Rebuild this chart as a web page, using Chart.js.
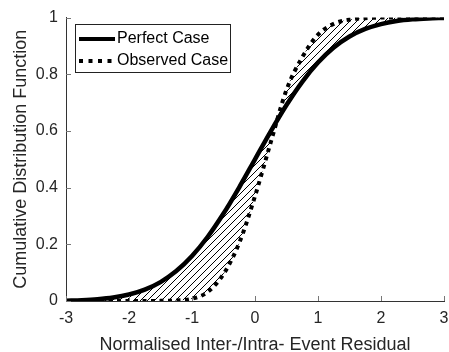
<!DOCTYPE html>
<html>
<head>
<meta charset="utf-8">
<script src="https://cdn.jsdelivr.net/npm/chart.js@4"></script>
<style>
  html, body { margin: 0; padding: 0; background: #fff; }
  #wrap { width: 449px; height: 352px; position: relative; }
</style>
</head>
<body>
<div id="wrap"><canvas id="cdfChart"></canvas></div>
<script>
// residual grid and CDF values for the two cases
var residuals = [-3, -2.75, -2.5, -2.25, -2, -1.75, -1.5, -1.25, -1, -0.75, -0.5, -0.25,
  0, 0.25, 0.5, 0.75, 1, 1.25, 1.5, 1.75, 2, 2.25, 2.5, 2.75, 3];
var perfectCdf = [0.0013, 0.003, 0.0062, 0.0122, 0.0228, 0.0401, 0.0668, 0.1056, 0.1587,
  0.2266, 0.3085, 0.4013, 0.5, 0.5987, 0.6915, 0.7734, 0.8413, 0.8944, 0.9332, 0.9599,
  0.9772, 0.9878, 0.9938, 0.997, 0.9987];
var observedCdf = [0, 0, 0, 0, 0, 0, 0.0005, 0.002, 0.008, 0.032, 0.095, 0.205,
  0.37, 0.56, 0.745, 0.86, 0.94, 0.978, 0.993, 0.998, 1, 1, 1, 1, 1];
var xTicks = [-3, -2, -1, 0, 1, 2, 3];
var yTicks = [0, 0.2, 0.4, 0.6, 0.8, 1];
var legendLabels = ['Perfect Case', 'Observed Case'];

var FONT = '"Liberation Sans", Arial, Helvetica, sans-serif';

function toPoints(ys) {
  return residuals.map(function(x, i) { return { x: x, y: ys[i] }; });
}

// diagonal hatch used between the two curves
function hatchPattern() {
  var size = 7;
  var c = document.createElement('canvas');
  c.width = size;
  c.height = size;
  var g = c.getContext('2d');
  g.strokeStyle = '#000';
  g.lineWidth = 1;
  g.beginPath();
  g.moveTo(0, size); g.lineTo(size, 0);
  g.moveTo(-1, 1); g.lineTo(1, -1);
  g.moveTo(size - 1, size + 1); g.lineTo(size + 1, size - 1);
  g.stroke();
  return g.createPattern(c, 'repeat');
}

var decorations = {
  id: 'decorations',
  afterDraw: function(chart) {
    var ctx = chart.ctx;
    var xs = chart.scales.x;
    var ys = chart.scales.y;
    var area = chart.chartArea;
    ctx.save();

    // inward tick marks
    ctx.strokeStyle = '#777';
    ctx.lineWidth = 1;
    ctx.beginPath();
    xTicks.forEach(function(v) {
      var px = Math.round(xs.getPixelForValue(v)) + 0.5;
      ctx.moveTo(px, area.bottom);
      ctx.lineTo(px, area.bottom - 5);
    });
    yTicks.forEach(function(v) {
      var py = Math.round(ys.getPixelForValue(v)) + 0.5;
      ctx.moveTo(area.left, py);
      ctx.lineTo(area.left + 5, py);
    });
    ctx.stroke();

    // axis titles
    ctx.fillStyle = '#262626';
    ctx.font = '18px ' + FONT;
    ctx.textAlign = 'center';
    ctx.textBaseline = 'alphabetic';
    ctx.fillText('Normalised Inter-/Intra- Event Residual', (area.left + area.right) / 2, 350);
    ctx.save();
    ctx.translate(26, (area.top + area.bottom) / 2);
    ctx.rotate(-Math.PI / 2);
    ctx.fillText('Cumulative Distribution Function', 0, 0);
    ctx.restore();

    // legend box
    var bx = 75.5, by = 24.5, bw = 155, bh = 48;
    ctx.fillStyle = '#fff';
    ctx.fillRect(bx, by, bw, bh);
    ctx.strokeStyle = '#222';
    ctx.lineWidth = 1;
    ctx.strokeRect(bx, by, bw, bh);

    ctx.strokeStyle = '#000';
    ctx.lineWidth = 4;
    ctx.lineCap = 'butt';
    ctx.beginPath();
    ctx.moveTo(79, 39);
    ctx.lineTo(115, 39);
    ctx.stroke();
    ctx.setLineDash([4, 5.5]);
    ctx.beginPath();
    ctx.moveTo(79, 61);
    ctx.lineTo(115, 61);
    ctx.stroke();
    ctx.setLineDash([]);

    ctx.fillStyle = '#000';
    ctx.font = '16px ' + FONT;
    ctx.textAlign = 'left';
    ctx.textBaseline = 'middle';
    ctx.fillText(legendLabels[0], 117, 39);
    ctx.fillText(legendLabels[1], 117, 61);
    ctx.restore();
  }
};

var ctx = document.getElementById('cdfChart').getContext('2d');
var chart = new Chart(ctx, {
  type: 'line',
  data: {
    datasets: [{
      label: legendLabels[0],
      data: toPoints(perfectCdf),
      borderColor: '#000',
      borderWidth: 4.5,
      pointRadius: 0,
      cubicInterpolationMode: 'monotone',
      fill: { target: 1 },
      backgroundColor: hatchPattern(),
      order: 2
    }, {
      label: legendLabels[1],
      data: toPoints(observedCdf),
      borderColor: '#000',
      borderWidth: 4,
      borderDash: [4, 4.5],
      borderCapStyle: 'butt',
      pointRadius: 0,
      cubicInterpolationMode: 'monotone',
      fill: false,
      order: 1
    }]
  },
  options: {
    responsive: true,
    maintainAspectRatio: false,
    animation: false,
    layout: { padding: { top: 17, right: 0, left: 0, bottom: 0 } },
    plugins: {
      legend: { display: false },
      tooltip: { enabled: false }
    },
    scales: {
      x: {
        type: 'linear',
        min: -3,
        max: 3,
        afterFit: function(scale) {
          scale.height = 51;
          scale.paddingRight = 5;
        },
        afterBuildTicks: function(scale) {
          scale.ticks = xTicks.map(function(v) { return { value: v }; });
        },
        grid: { display: false, drawTicks: false },
        border: { display: true, color: '#333', width: 1 },
        ticks: {
          padding: 8,
          color: '#262626',
          font: { family: FONT, size: 16 },
          maxRotation: 0
        }
      },
      y: {
        type: 'linear',
        min: 0,
        max: 1,
        afterFit: function(scale) { scale.width = 66; },
        afterBuildTicks: function(scale) {
          scale.ticks = yTicks.map(function(v) { return { value: v }; });
        },
        grid: { display: false, drawTicks: false },
        border: { display: true, color: '#333', width: 1 },
        ticks: {
          padding: 8,
          color: '#262626',
          font: { family: FONT, size: 16 },
          callback: function(v) { return String(v); }
        }
      }
    }
  },
  plugins: [decorations]
});
</script>
</body>
</html>
